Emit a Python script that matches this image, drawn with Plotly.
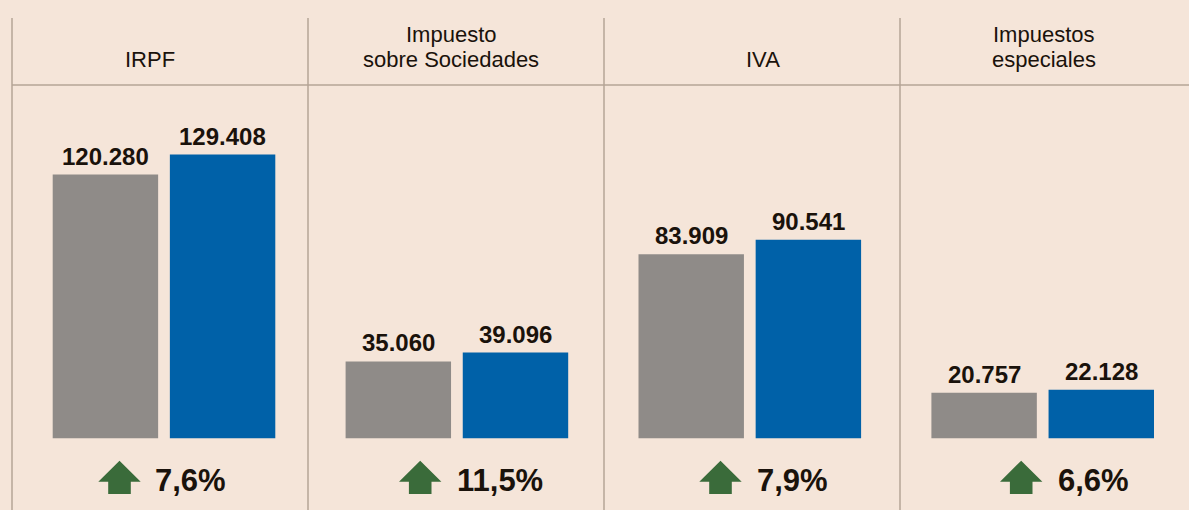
import plotly.graph_objects as go

# ---- data ----
categories = ["IRPF", "Impuesto<br>sobre Sociedades", "IVA", "Impuestos<br>especiales"]
previous_values = [120280, 35060, 83909, 20757]
current_values = [129408, 39096, 90541, 22128]
growth_labels = ["7,6%", "11,5%", "7,9%", "6,6%"]

# ---- style ----
BG = "#F5E5D9"
GRAY = "#8F8B88"
BLUE = "#0061A8"
GREEN = "#3A6B3A"
TEXT = "#1A120B"
RULE = "#B5A496"
FONT = "Liberation Sans, Arial, sans-serif"

W, H = 1189, 510

def px_x(p):
    return p / W

def px_y(p):
    return 1 - p / H

def fmt(v):
    return f"{v:,}".replace(",", ".")

idx = list(range(len(categories)))

fig = go.Figure()
fig.add_trace(go.Bar(x=idx, y=previous_values, marker=dict(color=GRAY, line=dict(width=0)),
                     name="Anterior", hoverinfo="skip"))
fig.add_trace(go.Bar(x=idx, y=current_values, marker=dict(color=BLUE, line=dict(width=0)),
                     name="Actual", hoverinfo="skip"))

annotations = []
# value labels above bars
for i in idx:
    for off, vals in ((-0.2, previous_values), (0.2, current_values)):
        annotations.append(dict(x=i + off, y=vals[i], xref="x", yref="y", text=fmt(vals[i]),
                                showarrow=False, yanchor="bottom", xanchor="center", yshift=3,
                                font=dict(family=FONT, size=24, color=TEXT, weight="bold")))

# headers (each line separately for tight line spacing)
header_cx = [150, 451, 763, 1044]
for i, name in enumerate(categories):
    lines = name.split("<br>")
    for k, line in enumerate(reversed(lines)):
        annotations.append(dict(x=px_x(header_cx[i]), y=px_y(74 - 25 * k), xref="paper", yref="paper",
                                text=line, showarrow=False, xanchor="center", yanchor="bottom",
                                font=dict(family=FONT, size=22, color=TEXT)))

# growth labels and arrows
arrow_cx = [119.5, 420.2, 720.5, 1021.2]
text_left = [153, 455, 755, 1056]
shapes = []
for i, lab in enumerate(growth_labels):
    annotations.append(dict(x=px_x(text_left[i]), y=px_y(480), xref="paper", yref="paper",
                            text=lab, showarrow=False, xanchor="left", yanchor="middle",
                            font=dict(family=FONT, size=31, color=TEXT, weight="bold")))
    shapes.append(dict(type="path", xref="paper", yref="paper", xsizemode="pixel", ysizemode="pixel",
                       xanchor=px_x(arrow_cx[i]), yanchor=px_y(494),
                       path="M -11.3 0 L 11.3 0 L 11.3 12.3 L 21.2 12.3 L 0 33.3 L -21.2 12.3 L -11.3 12.3 Z",
                       fillcolor=GREEN, line=dict(width=0), layer="above"))

# separators
for sx in (12, 308, 604, 900):
    shapes.append(dict(type="line", xref="paper", yref="paper", x0=px_x(sx), x1=px_x(sx),
                       y0=px_y(18), y1=0, line=dict(color=RULE, width=1.5)))
shapes.append(dict(type="line", xref="paper", yref="paper", x0=px_x(12), x1=1,
                   y0=px_y(85), y1=px_y(85), line=dict(color=RULE, width=1.5)))

pitch = 292.9
center0 = 164
scale = 2.193 / 1000  # px per unit
baseline = 438.3

fig.update_layout(
    width=W, height=H,
    margin=dict(l=0, r=0, t=0, b=0),
    paper_bgcolor=BG, plot_bgcolor=BG,
    barmode="group", bargap=0.2, bargroupgap=0.1,
    showlegend=False,
    xaxis=dict(range=[-center0 / pitch, (W - center0) / pitch], visible=False, fixedrange=True),
    yaxis=dict(range=[-(H - baseline) / scale, baseline / scale], visible=False, fixedrange=True),
    annotations=annotations, shapes=shapes,
    hovermode=False,
)

fig.write_html("out.html", config={"displayModeBar": False})
